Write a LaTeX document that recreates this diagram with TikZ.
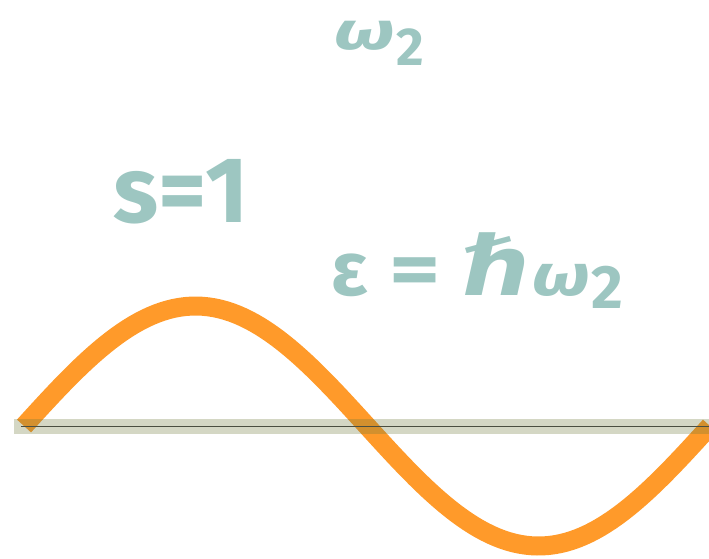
\documentclass[tikz,border=0pt]{standalone}
\usepackage{fontspec}
\setmainfont{Fira Sans}
\newfontfamily\symfont{DejaVu Sans}
\usetikzlibrary{calc}
\definecolor{wave}{HTML}{FF9A2A}
\definecolor{band}{HTML}{707A3A}
\definecolor{axisline}{HTML}{4A4E40}
\definecolor{labelink}{HTML}{9DC6C1}
\newcommand{\bigfont}{\fontsize{70pt}{74pt}\selectfont\bfseries}
\newcommand{\smallfont}{\fontsize{40pt}{44pt}\selectfont\bfseries}

\begin{document}
\begin{tikzpicture}[x=0.75pt, y=-0.75pt]
      \useasboundingbox (0, 0) rectangle (709, 558);
      \draw[wave, line width=14.25pt, line cap=butt] plot[domain=24:710, samples=120] (\x, {426 - 120*sin((\x - 24)/686*360)});
      \fill[band, opacity=0.3] (14, 418.5) rectangle (709, 434);
      \coordinate (axisstart) at (21, 426.5);
      \coordinate (axisend) at (709, 426.5);
      \draw[axisline, line width=1.1pt] (axisstart) -- (axisend);
      \node[text=labelink, anchor=base west, inner sep=0pt] (freq) at (334, 49) {\smallfont\itshape\scalebox{1.5}[1]{ω}\hspace{1pt}\raisebox{-12pt}{\upshape 2}};
      \node[text=labelink, anchor=base west, inner sep=0pt] (spin) at (113, 222) {\bigfont s=1};
      \node[text=labelink, anchor=base west, inner sep=0pt] (energy) at (331, 295) {\fontsize{57pt}{60pt}\selectfont\bfseries ε\hspace{16pt}\scalebox{1.3}[1]{=}\hspace{18pt}{\fontsize{62pt}{66pt}\symfont\bfseries\itshape\scalebox{1.15}[1]{ℏ}}{\fontsize{44pt}{48pt}\selectfont\bfseries\itshape\scalebox{1.3}[1]{ω}}\hspace{1pt}\raisebox{-9.75pt}{\fontsize{46pt}{50pt}\selectfont 2}};
    \end{tikzpicture}
\end{document}
